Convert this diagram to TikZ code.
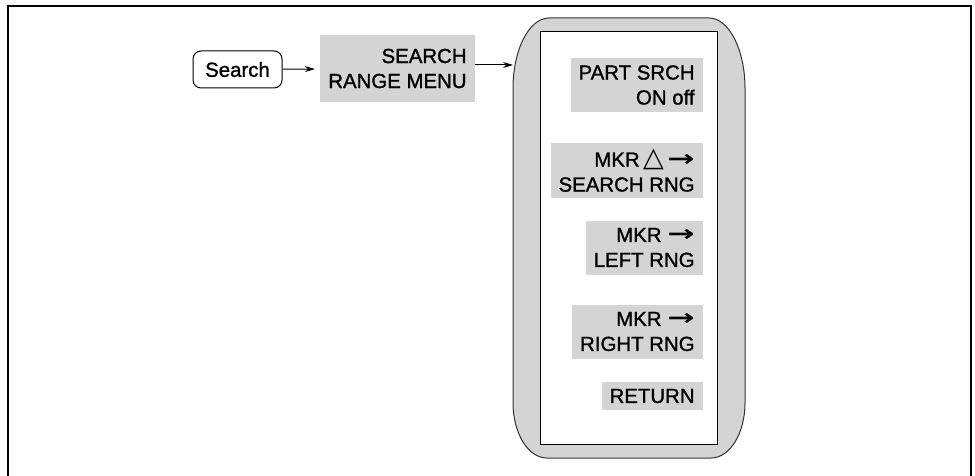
\documentclass[tikz,border=0pt]{standalone}
\usepackage{fontspec}
\setmainfont{Liberation Sans}[FakeBold=1.2]
\newfontfamily\symfont{DejaVu Sans}
\usepackage{tikz}
\usetikzlibrary{arrows.meta,positioning}

\newcommand{\deltasym}{{\symfont\fontsize{13.5pt}{12.5pt}\selectfont △}}
\newcommand{\keyarrow}{\scalebox{1.6}[1.1]{\symfont\bfseries →}}

\begin{document}
\begin{tikzpicture}[x=0.5pt, y=-0.5pt, font=\fontsize{10.2pt}{12.5pt}\selectfont,
  hard/.style={draw, line width=0.5pt, rounded corners=4pt,
               minimum width=44.5pt, minimum height=18.5pt},
  key/.style={fill=black!17, inner xsep=4pt, inner ysep=3pt, align=right,
              anchor=east, minimum height=27pt},
  arr/.style={-{Stealth[length=5pt,width=3pt]}, line width=0.5pt}]
\useasboundingbox (0,0) rectangle (975,476);
% --- frame ---
\draw[line width=1pt] (8,476) -- (8,6) -- (971,6) -- (971,476);
% --- front panel key and menu ---
\node[hard] (search) at (237.5,69.5) {Search};
\node[key, minimum height=33.5pt] (srmenu) at (475,68.5) {SEARCH\\RANGE MENU};
\draw[arr, shorten >=2.5pt] (search) -- (srmenu);
% --- softkey panel ---
\draw[fill=black!17, draw=black!80, line width=0.5pt] (513,88) .. controls (513,50) and (529,18) .. (549,18)
  -- (709,18) .. controls (729,18) and (745,50) .. (745,88)
  -- (745,403) .. controls (745,433) and (730,458) .. (711,458)
  -- (547,458) .. controls (528,458) and (513,433) .. (513,403) -- cycle;
\draw[fill=white, line width=0.5pt] (540,32) rectangle (717,444);
\coordinate (panelin) at (513,65);
\draw[arr] (srmenu.east |- panelin) -- (panelin);
\node[key] (partsrch) at (703,85) {PART SRCH\\ON off};
\node[key] (mkrsrch) at (703,170.5) {MKR\,\deltasym\,\keyarrow\\SEARCH RNG};
\node[key] (mkrleft) at (703,247.5) {MKR \keyarrow\\LEFT RNG};
\node[key] (mkrright) at (703,331.5) {MKR \keyarrow\\RIGHT RNG};
\node[key, minimum height=14pt] (return) at (703,396) {RETURN};
\end{tikzpicture}
\end{document}
